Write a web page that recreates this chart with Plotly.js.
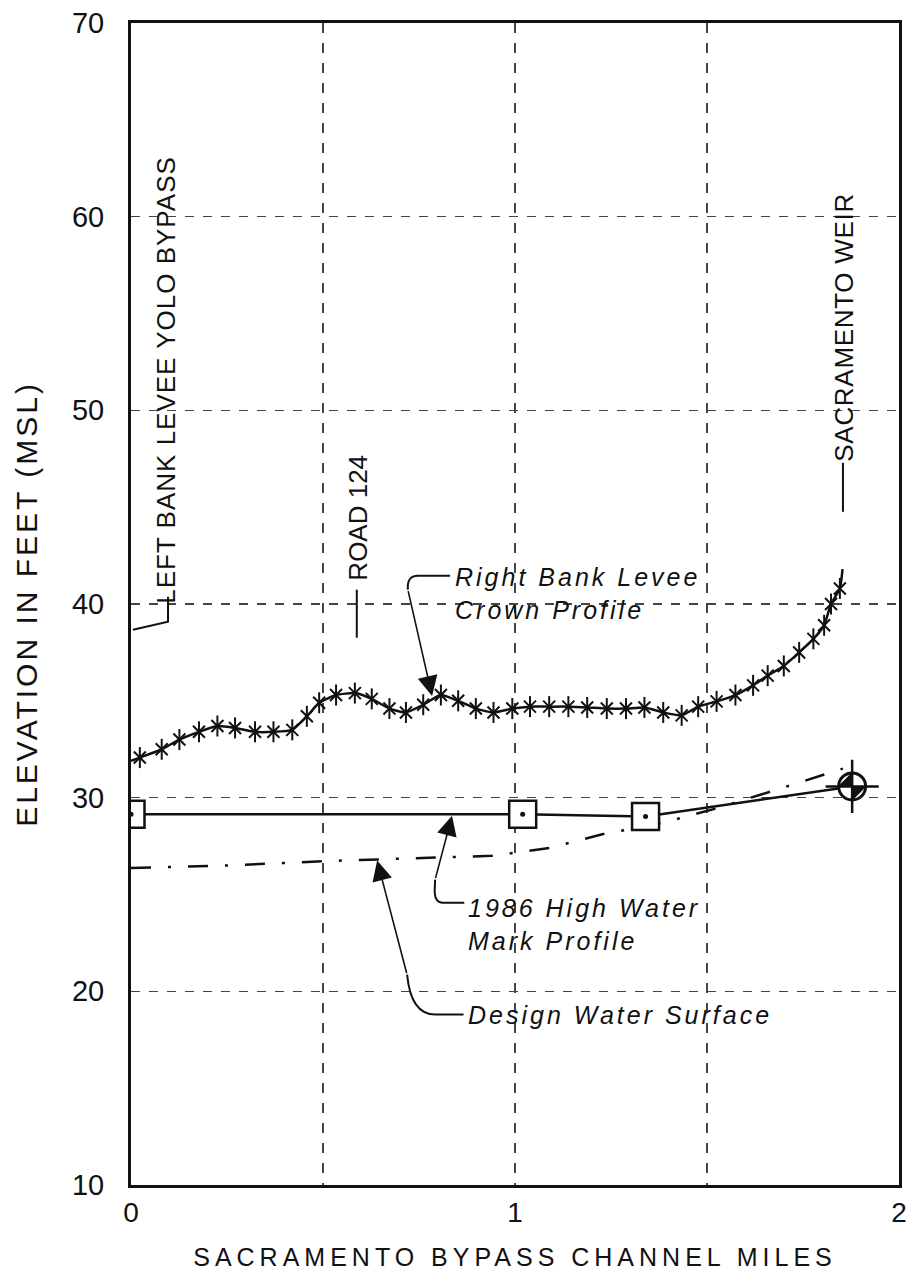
<!DOCTYPE html>
<html>
<head>
<meta charset="utf-8">
<script src="https://cdn.plot.ly/plotly-3.0.1.min.js"></script>
<style>
  html, body { margin: 0; padding: 0; background: #fff; }
  #chart { width: 923px; height: 1283px; }
  .xtitle { letter-spacing: 5px; }
  .ytitle { letter-spacing: 3px; }
  g.annotation[data-index="0"] text { letter-spacing: 1px; }
  g.annotation[data-index="2"] text { letter-spacing: 0.7px; }
  g.annotation[data-index="3"] text,
  g.annotation[data-index="4"] text,
  g.annotation[data-index="5"] text { letter-spacing: 3px; }
</style>
</head>
<body>
<div id="chart"></div>
<script>
// ---- Data ----
// Right Bank Levee crown profile (asterisk points)
const crownMiles = [0.023,0.080,0.126,0.177,0.225,0.271,0.323,0.371,0.420,0.458,0.490,0.534,0.583,0.627,0.673,0.716,0.761,0.807,0.852,0.898,0.944,0.993,1.039,1.089,1.139,1.188,1.239,1.289,1.337,1.386,1.434,1.477,1.525,1.574,1.620,1.658,1.700,1.740,1.777,1.805,1.823,1.846];
const crownElev  = [32.07,32.5,33.0,33.4,33.7,33.6,33.4,33.4,33.5,34.2,34.9,35.3,35.4,35.1,34.6,34.4,34.8,35.3,35.0,34.6,34.4,34.6,34.7,34.7,34.7,34.66,34.6,34.6,34.66,34.4,34.25,34.7,34.97,35.3,35.8,36.3,36.8,37.5,38.2,38.9,40.0,40.8];
// line continues a little past the first/last asterisk
const crownLineStart = [0, 31.9];
const crownLineEnd   = [1.853, 41.8];

// 1986 High Water Mark profile
const hwMiles = [0, 1.02, 1.34, 1.878];
const hwElev  = [29.15, 29.15, 29.03, 30.58];

// Design Water Surface
const dwsMiles = [0, 0.25, 0.5, 0.94, 1.09, 1.23, 1.385, 1.525, 1.668, 1.854];
const dwsElev  = [26.37, 26.5, 26.72, 27.0, 27.4, 28.12, 28.7, 29.45, 30.33, 31.5];

// Axes (grid every 0.5 mile, labels at whole miles)
const xTicks = [0, 0.5, 1, 1.5, 2];
const xTickText = ['0', '', '1', '', '2'];
const yTicks = [10, 20, 30, 40, 50, 60, 70];
const yTickText = ['10', '20', '30', '40', '50', '60', '70'];

const FONT = 'Liberation Sans, Arial, Helvetica, sans-serif';
const INK = '#111';

const crownLineX = [crownLineStart[0], ...crownMiles, crownLineEnd[0]];
const crownLineY = [crownLineStart[1], ...crownElev, crownLineEnd[1]];
const hwLast = hwMiles.length - 1;

const traces = [
  // Design water surface
  { x: dwsMiles, y: dwsElev, mode: 'lines', type: 'scatter',
    line: { color: INK, width: 2.5, dash: '20px,17px,3px,17px' }, hoverinfo: 'skip' },
  // High water line
  { x: hwMiles, y: hwElev, mode: 'lines', type: 'scatter',
    line: { color: INK, width: 2.5 }, hoverinfo: 'skip' },
  // squares
  { x: hwMiles.slice(0, hwLast), y: hwElev.slice(0, hwLast), mode: 'markers', type: 'scatter',
    marker: { symbol: 'square', size: 27, color: '#fff', line: { color: INK, width: 2.5 } } },
  { x: hwMiles.slice(0, hwLast), y: hwElev.slice(0, hwLast), mode: 'markers', type: 'scatter',
    marker: { symbol: 'circle', size: 5, color: INK } },
  // end marker: quadrant circle
  { x: [hwMiles[hwLast]], y: [hwElev[hwLast]], mode: 'markers', type: 'scatter',
    marker: { symbol: 'circle', size: 27, color: '#fff', line: { width: 0 } } },
  { x: [hwMiles[hwLast]], y: [hwElev[hwLast]], mode: 'markers', type: 'scatter',
    marker: { symbol: 'bowtie', size: 19.5, angle: 45, color: INK, line: { color: INK, width: 1 } } },
  { x: [hwMiles[hwLast]], y: [hwElev[hwLast]], mode: 'markers', type: 'scatter',
    marker: { symbol: 'circle-open', size: 27, color: INK, line: { color: INK, width: 3 } } },
  { x: [hwMiles[hwLast]], y: [hwElev[hwLast]], mode: 'markers', type: 'scatter',
    marker: { symbol: 'cross-thin-open', size: 38, color: INK, line: { color: INK, width: 2.5 } } },
  // crown profile line
  { x: crownLineX, y: crownLineY, mode: 'lines', type: 'scatter',
    line: { color: INK, width: 2.5, shape: 'spline', smoothing: 0.5 }, hoverinfo: 'skip' },
  // asterisks (X + vertical bar)
  { x: crownMiles, y: crownElev, mode: 'markers', type: 'scatter',
    marker: { symbol: 'x-thin-open', size: 12, color: INK, line: { color: INK, width: 2 } } },
  { x: crownMiles, y: crownElev, mode: 'markers', type: 'scatter',
    marker: { symbol: 'line-ns-open', size: 15, color: INK, line: { color: INK, width: 2 } } }
];

const vFont = { family: FONT, size: 26, color: INK };
const iFont = { family: FONT, size: 25, color: INK, style: 'italic' };

const annotations = [
  { text: 'LEFT BANK LEVEE YOLO BYPASS', x: 0.092, y: 40.6, xref: 'x', yref: 'y',
    textangle: -90, xanchor: 'center', yanchor: 'bottom', showarrow: false, font: vFont },
  { text: 'ROAD 124', x: 0.591, y: 41.1, xref: 'x', yref: 'y',
    textangle: -90, xanchor: 'center', yanchor: 'bottom', showarrow: false, font: vFont },
  { text: 'SACRAMENTO WEIR', x: 1.856, y: 47.5, xref: 'x', yref: 'y',
    textangle: -90, xanchor: 'center', yanchor: 'bottom', showarrow: false, font: vFont },
  { text: 'Right Bank Levee<br>Crown Profile', x: 0.838, y: 40.56, xref: 'x', yref: 'y',
    xanchor: 'left', yanchor: 'middle', align: 'left', showarrow: false, font: iFont },
  { text: '1986 High Water<br>Mark Profile', x: 0.872, y: 23.47, xref: 'x', yref: 'y',
    xanchor: 'left', yanchor: 'middle', align: 'left', showarrow: false, font: iFont },
  { text: 'Design Water Surface', x: 0.872, y: 18.8, xref: 'x', yref: 'y',
    xanchor: 'left', yanchor: 'middle', align: 'left', showarrow: false, font: iFont },
  // arrows
  { text: '', x: 0.784, y: 35.25, ax: 0.721, ay: 40.74, xref: 'x', yref: 'y', axref: 'x', ayref: 'y',
    showarrow: true, arrowhead: 2, arrowsize: 2.5, arrowwidth: 1.6, arrowcolor: INK, standoff: 0 },
  { text: '', x: 0.836, y: 29.07, ax: 0.792, ay: 25.77, xref: 'x', yref: 'y', axref: 'x', ayref: 'y',
    showarrow: true, arrowhead: 2, arrowsize: 2.5, arrowwidth: 1.6, arrowcolor: INK, standoff: 0 },
  { text: '', x: 0.641, y: 26.75, ax: 0.719, ay: 20.86, xref: 'x', yref: 'y', axref: 'x', ayref: 'y',
    showarrow: true, arrowhead: 2, arrowsize: 2.5, arrowwidth: 1.6, arrowcolor: INK, standoff: 0 }
];

const lineStyle = { color: INK, width: 2 };
const shapes = [
  // leader for left bank label
  { type: 'path', xref: 'x', yref: 'y', path: 'M 0.0964 40.38 L 0.0964 39.09 L 0.005 38.67', line: lineStyle },
  // road 124 leader
  { type: 'line', xref: 'x', yref: 'y', x0: 0.588, x1: 0.588, y0: 40.74, y1: 38.26, line: lineStyle },
  // sacramento weir leader
  { type: 'line', xref: 'x', yref: 'y', x0: 1.854, x1: 1.854, y0: 47.29, y1: 44.76, line: lineStyle },
  // hooks
  { type: 'path', xref: 'x', yref: 'y', path: 'M 0.831 41.46 L 0.747 41.46 Q 0.718 41.46 0.721 40.74', line: lineStyle },
  { type: 'path', xref: 'x', yref: 'y', path: 'M 0.868 24.58 L 0.8125 24.58 Q 0.789 24.58 0.791 25.3 L 0.792 25.77', line: lineStyle },
  { type: 'path', xref: 'x', yref: 'y', path: 'M 0.866 18.8 L 0.792 18.8 Q 0.729 18.8 0.719 20.86', line: lineStyle }
];

const layout = {
  width: 923, height: 1283,
  margin: { l: 131, r: 24, t: 23, b: 98 },
  paper_bgcolor: '#fff', plot_bgcolor: '#fff',
  showlegend: false,
  font: { family: FONT, color: INK },
  xaxis: {
    range: [0, 2], tickvals: xTicks, ticktext: xTickText,
    showline: true, mirror: true, linewidth: 3, linecolor: INK,
    ticks: '', zeroline: false,
    showgrid: true, gridcolor: '#444', gridwidth: 1.5, griddash: '10px,10px',
    tickfont: { family: FONT, size: 28, color: INK },
    title: { text: 'SACRAMENTO BYPASS CHANNEL MILES', font: { family: FONT, size: 25, color: INK }, standoff: 22 }
  },
  yaxis: {
    range: [10, 70], tickvals: yTicks, ticktext: yTickText,
    showline: true, mirror: true, linewidth: 3, linecolor: INK,
    ticks: '', zeroline: false, ticklabelstandoff: 18,
    showgrid: true, gridcolor: '#444', gridwidth: 1.5, griddash: '9px,9px',
    tickfont: { family: FONT, size: 29, color: INK },
    title: { text: 'ELEVATION IN FEET (MSL)', font: { family: FONT, size: 30, color: INK }, standoff: 26 }
  },
  annotations: annotations,
  shapes: shapes
};

Plotly.newPlot('chart', traces, layout, { staticPlot: true, displayModeBar: false });
</script>
</body>
</html>
